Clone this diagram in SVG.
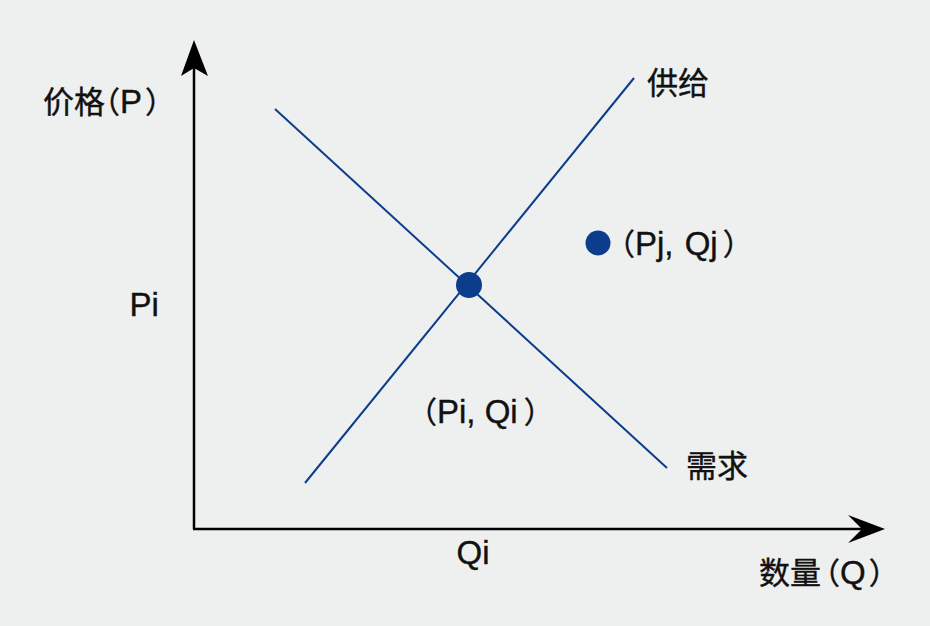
<svg xmlns="http://www.w3.org/2000/svg" width="930" height="626" viewBox="0 0 930 626">
<style>
.t{font-family:"Liberation Sans","Noto Sans CJK SC",sans-serif;font-size:31px;fill:#111;stroke:#111;stroke-width:0.4}
.l{font-family:"Liberation Sans","Noto Sans CJK SC",sans-serif;font-size:33px}
.p{font-family:"Noto Sans CJK SC",sans-serif;font-size:30px;font-feature-settings:"halt"}
.ax{stroke:#000;stroke-width:2.5;fill:none}
.ln{stroke:#0c3d8c;stroke-width:2;fill:none}
.dot{fill:#0c3d8c}
</style>
<rect width="930" height="626" fill="#eef0ef"/>
<g id="axes">
<line class="ax" x1="194" y1="529" x2="194" y2="62"/>
<line class="ax" x1="193" y1="529" x2="870" y2="529"/>
<polygon points="194,40 208,76 194,68 181,76" fill="#000"/>
<polygon points="885,529 848,543 862,529 848,515" fill="#000"/>
</g>
<g id="connectors">
<line class="ln" x1="275" y1="109" x2="667" y2="468"/>
<line class="ln" x1="305" y1="483" x2="634" y2="78"/>
</g>
<g id="equilibrium">
<circle class="dot" cx="469" cy="285" r="13"/>
<text class="t" x="422" y="423"><tspan class="p">（</tspan><tspan class="l">Pi, Qi</tspan><tspan class="p" dx="6">）</tspan></text>
</g>
<g id="pointj">
<circle class="dot" cx="598" cy="243" r="12.5"/>
<text class="t" x="620" y="255"><tspan class="p">（</tspan><tspan class="l">Pj,</tspan><tspan class="l" dx="2"> Qj</tspan><tspan class="p" dx="5">）</tspan></text>
</g>
<g id="labels">
<text class="t" x="43" y="113"><tspan>价格</tspan><tspan class="p">（</tspan><tspan class="l">P</tspan><tspan class="p" dx="3">）</tspan></text>
<text class="t l" x="129.5" y="316">Pi</text>
<text class="t l" x="456.5" y="564">Qi</text>
<text class="t" x="759" y="584"><tspan>数量</tspan><tspan class="p" dx="4">（</tspan><tspan class="l">Q</tspan><tspan class="p" dx="3">）</tspan></text>
<text class="t" x="647" y="94">供给</text>
<text class="t" x="686" y="477">需求</text>
</g>
</svg>
